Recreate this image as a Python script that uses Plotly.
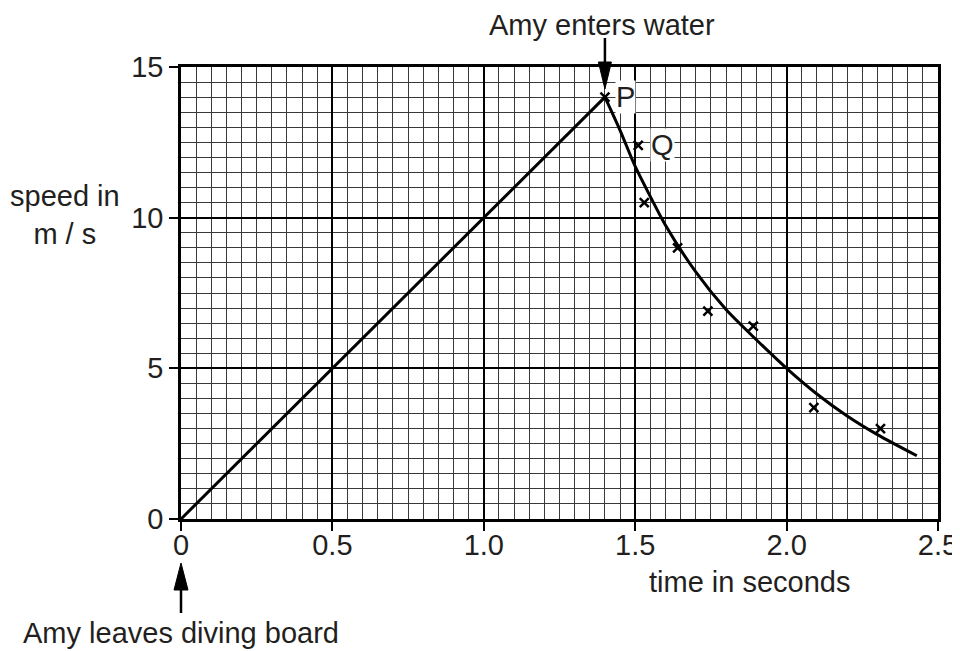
import plotly.graph_objects as go

# --- data ---
line_t = [0.0, 1.4]
line_v = [0.0, 14.0]

curve_t = [1.40, 1.45, 1.50, 1.55, 1.60, 1.70, 1.80, 1.90, 2.00, 2.10, 2.20, 2.30, 2.43]
curve_v = [14.0, 12.9, 11.7, 10.7, 9.75, 8.2, 6.95, 5.95, 5.0, 4.15, 3.42, 2.8, 2.1]

point_t = [1.40, 1.51, 1.53, 1.64, 1.74, 1.89, 2.09, 2.31]
point_v = [14.0, 12.4, 10.5, 9.0, 6.9, 6.4, 3.7, 3.0]

x_ticks = [0, 0.5, 1.0, 1.5, 2.0, 2.5]
x_labels = ["0", "0.5", "1.0", "1.5", "2.0", "2.5"]
y_ticks = [0, 5, 10, 15]
y_labels = ["0", "5", "10", "15"]

FONT = "Liberation Sans, Arial, sans-serif"
TXT = "#231f20"
FS = 29

fig = go.Figure()
fig.add_trace(go.Scatter(x=line_t, y=line_v, mode="lines",
                         line=dict(color="black", width=3), hoverinfo="skip"))
fig.add_trace(go.Scatter(x=curve_t, y=curve_v, mode="lines",
                         line=dict(color="black", width=3, shape="spline", smoothing=0.8),
                         hoverinfo="skip"))
fig.add_trace(go.Scatter(x=point_t, y=point_v, mode="markers",
                         marker=dict(symbol="x-thin", size=9, color="black",
                                     line=dict(color="black", width=2.5)),
                         hoverinfo="skip"))

axis_common = dict(
    showline=True, linecolor="black", linewidth=2.5, mirror=True,
    ticks="outside", ticklen=9, tickwidth=2, tickcolor="black",
    showgrid=True, gridcolor="black", gridwidth=2,
    zeroline=False, automargin=False,
    tickfont=dict(family=FONT, size=FS, color=TXT),
)

fig.update_xaxes(range=[0, 2.5], tickvals=x_ticks, ticktext=x_labels,
                 ticklabelstandoff=-11,
                 minor=dict(dtick=0.05, showgrid=True, gridcolor="#3a3a3a", gridwidth=1, ticks=""),
                 **axis_common)
fig.update_yaxes(range=[0, 15], tickvals=y_ticks, ticktext=y_labels,
                 minor=dict(dtick=0.5, showgrid=True, gridcolor="#3a3a3a", gridwidth=1, ticks=""),
                 **axis_common)

W, H = 757, 452  # plot area size in px (for paper-unit conversion of decorations)

def px(dx):
    return dx / W

def py(dy):
    return dy / H

shapes = []
# arrow to P (Amy enters water)
xp = 1.4 / 2.5
shapes.append(dict(type="line", xref="paper", yref="paper",
                   x0=xp, x1=xp, y0=1 + py(29), y1=1 + py(-3),
                   line=dict(color="black", width=2.5)))
shapes.append(dict(type="path", xref="paper", yref="paper",
                   path=f"M {xp - px(6.5)},{1 + py(5)} L {xp + px(6.5)},{1 + py(5)} L {xp},{1 - py(22)} Z",
                   fillcolor="black", line=dict(color="black", width=1)))
# arrow at origin (Amy leaves diving board)
shapes.append(dict(type="line", xref="paper", yref="paper",
                   x0=0, x1=0, y0=-py(94), y1=-py(66),
                   line=dict(color="black", width=2.5)))
shapes.append(dict(type="path", xref="paper", yref="paper",
                   path=f"M {-px(7)},{-py(71)} L {px(7)},{-py(71)} L 0,{-py(44)} Z",
                   fillcolor="black", line=dict(color="black", width=1)))

annotations = [
    dict(text="Amy enters water", xref="paper", yref="paper", x=(602 - 181) / W, y=1 + py(519 - 452 - 25),
         showarrow=False, xanchor="center", yanchor="middle",
         font=dict(family=FONT, size=FS, color=TXT)),
    dict(text="Amy leaves diving board", xref="paper", yref="paper", x=0, y=-py(114),
         showarrow=False, xanchor="center", yanchor="middle",
         font=dict(family=FONT, size=FS, color=TXT)),
    dict(text="time in seconds", xref="paper", yref="paper", x=(750 - 181) / W, y=-py(63),
         showarrow=False, xanchor="center", yanchor="middle",
         font=dict(family=FONT, size=FS, color=TXT)),
    dict(text="speed in<br>m / s", xref="paper", yref="paper", x=(65 - 181) / W, y=py(519 - 215),
         showarrow=False, xanchor="center", yanchor="middle", align="center",
         font=dict(family=FONT, size=FS, color=TXT)),
    dict(text="P", x=1.4, y=14.0, xref="x", yref="y", xshift=21, yshift=0,
         showarrow=False, xanchor="center", yanchor="middle", bgcolor="white", borderpad=0,
         font=dict(family=FONT, size=FS, color=TXT)),
    dict(text="Q", x=1.51, y=12.4, xref="x", yref="y", xshift=24, yshift=0,
         showarrow=False, xanchor="center", yanchor="middle", bgcolor="white", borderpad=0,
         font=dict(family=FONT, size=FS, color=TXT)),
]

# The page body adds an 8px margin, so the figure is 8px smaller and margins compensate.
fig.update_layout(
    width=952, height=643,
    margin=dict(l=173, r=22, t=59, b=132),
    paper_bgcolor="white", plot_bgcolor="white",
    showlegend=False,
    shapes=shapes,
    annotations=annotations,
    font=dict(family=FONT, color=TXT),
)

fig.write_html("out.html")
